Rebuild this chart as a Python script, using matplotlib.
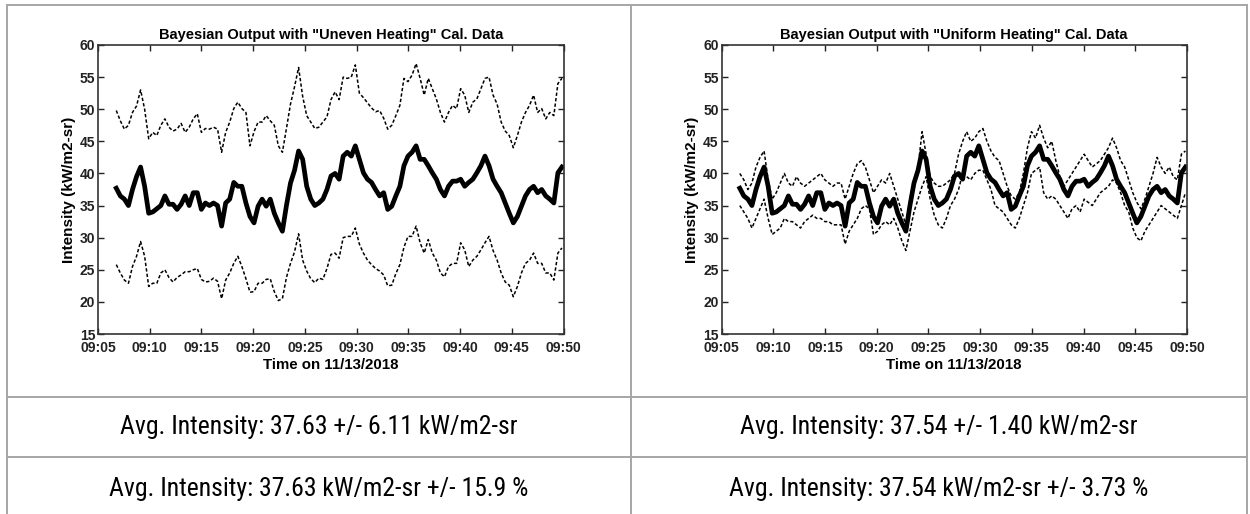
import matplotlib
matplotlib.use("Agg")
import matplotlib.pyplot as plt
import matplotlib.dates as mdates
from matplotlib import font_manager
import pandas as pd

# sample times (one reading every ~23.5 s)
times = pd.date_range("2018-11-13 09:06:46", periods=111, freq="23500ms")

# posterior mean intensity (kW/m2-sr)
mean_intensity = [
    37.7, 36.5, 36.0, 35.0, 37.5, 39.5, 41.0, 38.0, 33.8, 34.0,
    34.5, 35.0, 36.5, 35.2, 35.2, 34.4, 35.2, 36.5, 35.0, 37.0,
    37.0, 34.4, 35.4, 35.0, 35.4, 35.0, 31.8, 35.4, 36.0, 38.6,
    38.0, 38.0, 35.4, 33.3, 32.3, 34.9, 36.0, 34.9, 36.0, 33.8,
    32.3, 31.0, 35.0, 38.5, 40.5, 43.5, 42.2, 38.0, 36.0, 35.0,
    35.4, 36.0, 37.5, 39.6, 40.0, 39.1, 42.7, 43.3, 42.7, 44.3,
    42.2, 40.1, 39.1, 38.6, 37.5, 36.5, 37.0, 34.4, 34.9, 36.5,
    38.0, 41.2, 42.7, 43.3, 44.3, 42.2, 42.2, 41.2, 40.1, 39.1,
    37.5, 36.5, 38.0, 38.8, 38.8, 39.1, 38.0, 38.6, 39.1, 40.1,
    41.2, 42.7, 41.2, 39.1, 38.0, 37.0, 35.4, 33.8, 32.3, 33.3,
    34.9, 36.5, 37.5, 38.0, 37.0, 37.5, 36.5, 36.0, 35.4, 40.1,
    41.0,
]

# "Uneven Heating" calibration: upper / lower bounds
uneven_upper = [
    49.8, 48.2, 46.9, 47.5, 49.5, 50.5, 53.0, 50.0, 45.4, 46.4,
    45.9, 47.5, 48.5, 47.2, 46.6, 46.9, 47.8, 46.4, 47.2, 48.5,
    49.3, 46.4, 47.0, 46.9, 47.2, 46.9, 43.3, 46.4, 48.0, 50.1,
    51.1, 50.1, 49.5, 44.3, 46.5, 48.0, 48.0, 49.0, 48.2, 47.5,
    44.3, 43.3, 47.0, 50.8, 53.5, 56.5, 52.0, 49.0, 48.0, 47.0,
    47.2, 48.0, 48.8, 51.5, 52.7, 51.5, 55.0, 54.8, 55.0, 56.9,
    52.5, 51.8, 51.0, 50.2, 49.6, 49.8, 48.6, 46.9, 47.5, 49.0,
    50.6, 54.8, 54.3, 55.3, 57.1, 54.8, 52.2, 54.8, 53.2, 51.6,
    49.5, 48.0, 49.5, 50.6, 50.1, 53.2, 52.2, 49.5, 51.1, 51.6,
    53.2, 54.8, 55.0, 52.2, 50.8, 48.0, 46.6, 45.9, 44.0, 45.9,
    48.0, 49.5, 50.6, 52.2, 49.5, 50.1, 48.5, 49.5, 49.0, 54.0,
    54.8,
]
uneven_lower = [
    25.8, 24.5, 23.4, 22.9, 25.5, 27.1, 29.4, 27.1, 22.4, 22.9,
    22.9, 24.5, 25.0, 23.8, 23.1, 23.8, 24.2, 24.7, 24.7, 25.0,
    25.2, 23.5, 23.1, 23.2, 23.7, 23.2, 20.5, 23.4, 24.5, 26.0,
    27.1, 25.5, 23.6, 21.5, 21.6, 22.9, 22.9, 23.5, 23.6, 21.6,
    20.2, 20.5, 23.8, 26.0, 27.8, 30.6, 26.5, 24.8, 23.6, 23.0,
    23.7, 23.5, 25.2, 27.4, 27.6, 26.8, 30.0, 30.2, 30.2, 31.5,
    29.0, 27.6, 26.5, 25.8, 25.2, 24.8, 24.2, 22.5, 22.6, 24.4,
    25.8, 28.5, 30.2, 30.2, 31.8, 29.2, 27.6, 29.7, 27.6, 26.5,
    24.5, 23.9, 25.5, 26.0, 26.0, 29.2, 28.1, 25.5, 26.5, 27.1,
    28.1, 29.2, 30.2, 28.0, 26.5, 24.5, 23.1, 22.6, 20.8, 22.4,
    24.5, 26.0, 26.5, 27.6, 26.0, 26.0, 24.5, 24.5, 23.4, 27.6,
    28.4,
]

# "Uniform Heating" calibration: upper / lower bounds
uniform_upper = [
    40.0, 39.0, 37.5, 38.5, 41.0, 42.5, 43.5, 39.0, 36.0, 37.0,
    38.5, 40.0, 38.5, 38.0, 39.5, 38.5, 38.0, 38.5, 39.0, 39.5,
    40.0, 39.0, 38.5, 38.0, 38.5, 38.5, 36.0, 38.0, 40.0, 41.5,
    42.0, 41.0, 39.0, 37.0, 38.0, 39.0, 38.5, 40.0, 38.0, 36.0,
    34.0, 32.0, 36.0, 39.0, 41.0, 46.5, 43.0, 39.5, 38.5, 38.0,
    38.0, 38.5, 39.0, 40.0, 43.0, 45.0, 46.5, 45.0, 45.5, 46.5,
    47.0, 45.0, 43.5, 42.5, 42.0, 40.0, 38.0, 36.5, 36.0, 37.0,
    40.0, 44.0, 46.5, 45.5, 47.5, 45.5, 44.0, 45.0, 42.0, 39.5,
    38.0, 39.0, 40.0, 41.0, 42.0, 43.0, 42.0, 41.0, 41.5, 42.0,
    43.0, 44.0, 45.5, 44.0, 42.0, 41.0, 39.0, 37.0, 35.5, 34.5,
    36.0, 38.0, 40.0, 42.5, 41.0, 40.0, 41.0, 39.5, 39.0, 43.0,
    43.5,
]
uniform_lower = [
    35.0, 34.0, 33.0, 31.5, 33.0, 34.5, 36.0, 33.0, 30.5, 31.0,
    31.5, 33.0, 32.5, 32.5, 32.0, 31.5, 32.5, 33.0, 33.5, 33.0,
    33.0, 32.5, 32.5, 32.0, 32.0, 32.0, 29.0, 31.0, 32.0, 33.0,
    34.5, 35.0, 34.5, 30.5, 31.0, 32.0, 32.5, 32.0, 33.0, 31.5,
    29.5, 28.0, 31.0, 34.0, 36.0, 38.0, 39.5, 36.0, 33.5, 32.0,
    31.5, 33.0, 35.0, 36.0, 37.5, 40.0, 39.5, 39.0, 40.0, 40.5,
    40.5, 39.0, 37.5, 35.0, 34.5, 34.0, 33.0, 32.0, 31.5, 33.0,
    35.0, 37.0, 40.0, 40.5, 41.0, 37.0, 36.0, 36.5, 36.0, 35.0,
    34.0, 33.0, 34.5, 35.0, 34.0, 36.0, 35.5, 35.0, 36.0, 37.0,
    37.5, 38.0, 39.0, 38.5, 37.0, 35.0, 34.0, 31.5, 30.0, 29.5,
    31.0, 32.0, 33.0, 34.0, 35.0, 34.5, 34.0, 33.5, 33.0, 35.0,
    37.0,
]

titles = [
    'Bayesian Output with "Uneven Heating" Cal. Data',
    'Bayesian Output with "Uniform Heating" Cal. Data',
]
summary_abs = [
    "Avg. Intensity: 37.63 +/- 6.11 kW/m2-sr",
    "Avg. Intensity: 37.54 +/- 1.40 kW/m2-sr",
]
summary_pct = [
    "Avg. Intensity: 37.63 kW/m2-sr +/- 15.9 %",
    "Avg. Intensity: 37.54 kW/m2-sr +/- 3.73 %",
]

available = {f.name for f in font_manager.fontManager.ttflist}
NARROW = next((n for n in ["Liberation Sans Narrow", "Arial Narrow", "Roboto Condensed"]
               if n in available), "Liberation Sans")
AXES_FONT = "Liberation Sans"

W, H = 1250, 514
fig = plt.figure(figsize=(W / 100, H / 100), dpi=100)

# table grid behind the plots, in pixel units
bg = fig.add_axes([0, 0, 1, 1])
bg.set_xlim(0, W)
bg.set_ylim(H, 0)
bg.axis("off")
GRID = "#a6a6a6"
for y in (5, 397, 457):
    bg.plot([7, 1247], [y, y], color=GRID, lw=1.4)
for x in (7, 631, 1247):
    bg.plot([x, x], [5, H + 5], color=GRID, lw=1.4)
for i, cx in enumerate((319, 939)):
    bg.text(cx, 427, summary_abs[i], ha="center", va="center",
            fontsize=18.5, family=NARROW, color="black")
    bg.text(cx, 489, summary_pct[i], ha="center", va="center",
            fontsize=18.5, family=NARROW, color="black")

panels = [
    (98, uneven_upper, uneven_lower),
    (721.5, uniform_upper, uniform_lower),
]
t0 = pd.Timestamp("2018-11-13 09:05")
t1 = pd.Timestamp("2018-11-13 09:50")
DASH = (0, (2.2, 1.4))
for i, (px, upper, lower) in enumerate(panels):
    ax = fig.add_axes([px / W, 1 - 334 / H, 465.5 / W, 289 / H])
    ax.set_zorder(2)
    ax.plot(times, upper, color="black", lw=1.1, linestyle=DASH)
    ax.plot(times, lower, color="black", lw=1.1, linestyle=DASH)
    ax.plot(times, mean_intensity, color="black", lw=3.4)

    ax.set_xlim(t0, t1)
    ax.set_ylim(15, 60)
    ax.set_yticks(range(15, 61, 5))
    ax.xaxis.set_major_locator(mdates.MinuteLocator(byminute=range(0, 60, 5)))
    ax.xaxis.set_major_formatter(mdates.DateFormatter("%H:%M"))
    ax.tick_params(direction="in", top=True, right=True, length=4, width=1,
                   labelsize=10, pad=2, colors="#222222")
    ax.tick_params(axis="x", pad=5)
    for lab in ax.get_xticklabels() + ax.get_yticklabels():
        lab.set_fontweight("bold")
        lab.set_family(AXES_FONT)
    for sp in ax.spines.values():
        sp.set_color("#333333")
        sp.set_linewidth(1.2)
    ax.set_title(titles[i], fontsize=10.5, fontweight="bold", family=AXES_FONT, pad=4)
    ax.set_xlabel("Time on 11/13/2018", fontsize=10.8, fontweight="bold",
                  family=AXES_FONT, labelpad=2)
    ax.set_ylabel("Intensity (kW/m2-sr)", fontsize=11, fontweight="bold",
                  family=AXES_FONT, labelpad=3)

fig.savefig("out.png", dpi=100)
